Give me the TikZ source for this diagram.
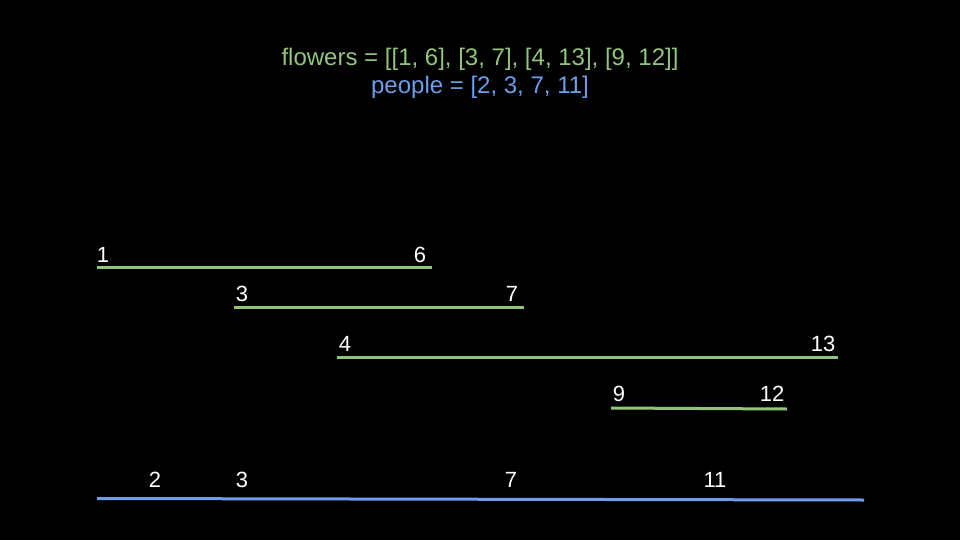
\documentclass[tikz,border=0pt]{standalone}
\usepackage{fontspec}
\setmainfont{Liberation Sans}
\definecolor{flowergreen}{RGB}{147,196,125}
\definecolor{peopleblue}{RGB}{109,158,235}
\begin{document}
\begin{tikzpicture}[x=1pt,y=1pt,yscale=-1,xscale=1,
  lbl/.style={anchor=base,inner sep=0.75pt,text=white,font=\fontsize{22}{26}\selectfont},
  ttl/.style={anchor=base,inner sep=0.75pt,font=\fontsize{24}{28}\selectfont},
  seg/.style={line width=3pt}]
%Background
\fill [black] (0,0) rectangle (960,540);

% Text Node
\node (flw) [ttl,text=flowergreen] at (480,66) {flowers = [[1, 6], [3, 7], [4, 13], [9, 12]]};
% Text Node
\node (ppl) [ttl,text=peopleblue] at (480,94) {people = [2, 3, 7, 11]};

%Straight Lines
\coordinate (f1a) at (97,267);
\coordinate (f1b) at (432,267);
\draw [seg,flowergreen] (f1a) -- (f1b);
%Straight Lines
\coordinate (f2a) at (234,307);
\coordinate (f2b) at (524,307);
\draw [seg,flowergreen] (f2a) -- (f2b);
%Straight Lines
\coordinate (f3a) at (337,357.5);
\coordinate (f3b) at (838,357.5);
\draw [seg,flowergreen] (f3a) -- (f3b);
%Straight Lines
\coordinate (f4a) at (611,408);
\coordinate (f4b) at (787,409);
\draw [seg,flowergreen] (f4a) -- (f4b);
%Straight Lines
\coordinate (pa) at (97,498.5);
\coordinate (pb) at (864,500);
\draw [seg,peopleblue] (pa) -- (pb);

% Text Node
\node (s1) [lbl] at (103,262) {1};
\node (e1) [lbl] at (420,262) {6};
\node (s2) [lbl] at (242,301) {3};
\node (e2) [lbl] at (512,301) {7};
\node (s3) [lbl] at (345,351) {4};
\node (e3) [lbl] at (823,351) {13};
\node (s4) [lbl] at (619,401) {9};
\node (e4) [lbl] at (772,401) {12};
% Text Node
\node (p2) [lbl] at (155,487) {2};
\node (p3) [lbl] at (242,487) {3};
\node (p7) [lbl] at (511,487) {7};
\node (p11) [lbl] at (715,487) {11};

\end{tikzpicture}
\end{document}
